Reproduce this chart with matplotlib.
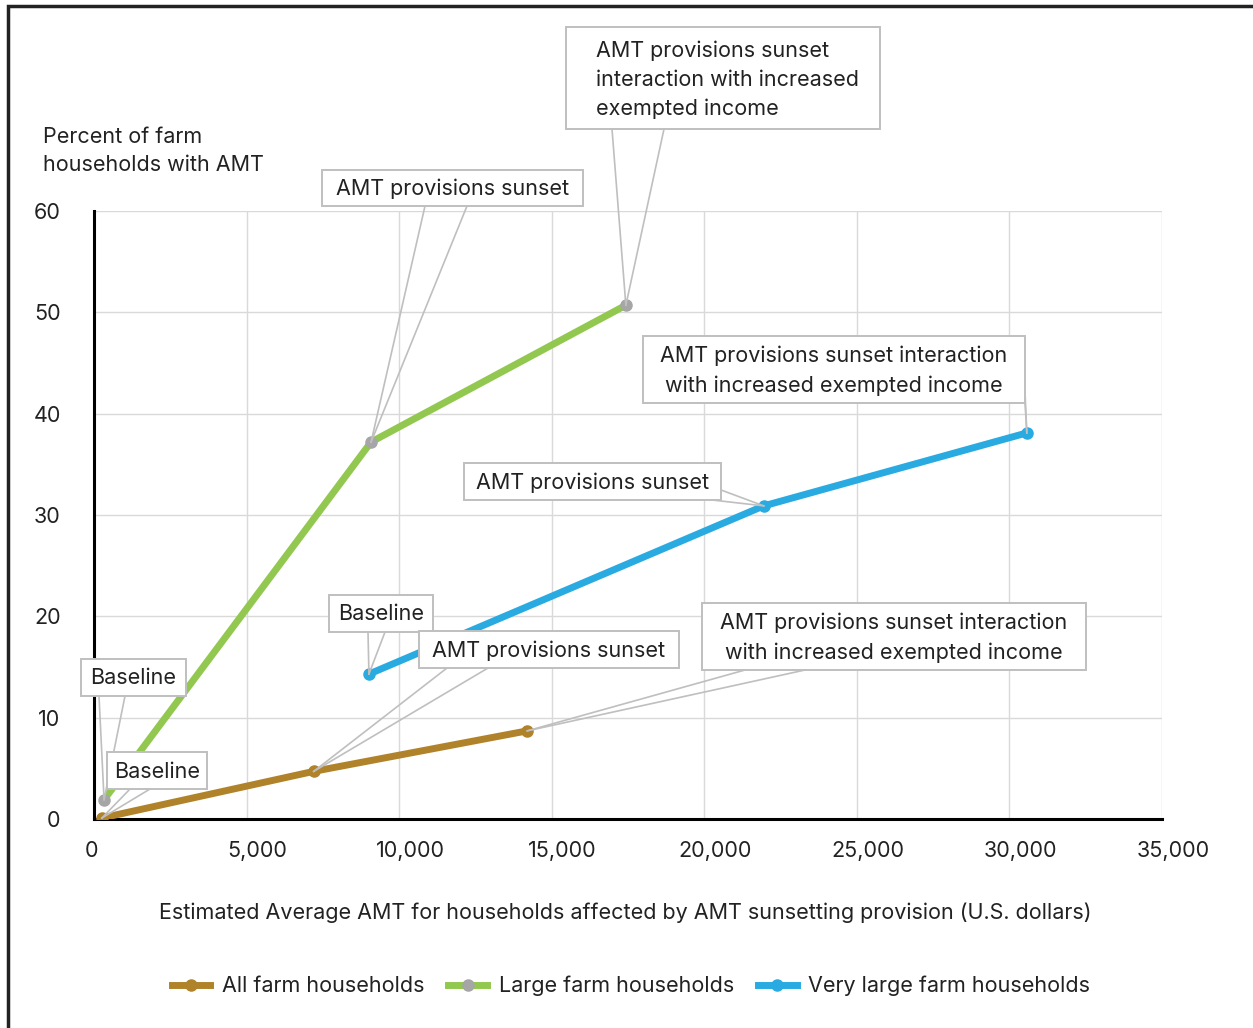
import matplotlib
matplotlib.use("Agg")
import matplotlib.pyplot as plt
from matplotlib.lines import Line2D
from matplotlib.patches import Rectangle
from matplotlib.transforms import ScaledTranslation

plt.rcParams['font.family'] = ['Inter', 'DejaVu Sans']

# ---- data ----
all_x = [260, 7200, 14200]
all_y = [0.1, 4.7, 8.7]
large_x = [330, 9080, 17430]
large_y = [1.9, 37.2, 50.7]
vlarge_x = [9010, 21950, 30570]
vlarge_y = [14.3, 30.9, 38.1]
series_names = ["All farm households", "Large farm households", "Very large farm households"]
x_ticks = [0, 5000, 10000, 15000, 20000, 25000, 30000, 35000]
y_ticks = [0, 10, 20, 30, 40, 50, 60]

C_ALL = "#B0832B"
C_LARGE = "#92C84F"
C_VL = "#29ABE2"
GRAY = "#A6A6A6"
FS = 15.5
TXT = '#222222'

W, H = 1253, 1028
fig = plt.figure(figsize=(W / 100, H / 100), dpi=100)
ax = fig.add_axes([94 / W, 1 - 819 / H, (1162 - 94) / W, (819 - 211) / H])

lw = 5.0
ms = 8
ax.plot(all_x, all_y, color=C_ALL, lw=lw, marker='o', ms=ms, mfc=C_ALL, mec=C_ALL, zorder=3,
        solid_capstyle='round')
ax.plot(large_x, large_y, color=C_LARGE, lw=lw, marker='o', ms=ms, mfc=GRAY, mec=GRAY, zorder=3,
        solid_capstyle='round')
ax.plot(vlarge_x, vlarge_y, color=C_VL, lw=lw, marker='o', ms=ms, mfc=C_VL, mec=C_VL, zorder=3,
        solid_capstyle='round')

ax.set_xlim(0, 35000)
ax.set_ylim(0, 60)
ax.set_xticks(x_ticks)
ax.set_xticklabels([f"{v:,}" for v in x_ticks])
ax.set_yticks(y_ticks)
ax.set_yticklabels([str(v) for v in y_ticks])
ax.grid(True, color="#D9D9D9", lw=1.0, zorder=0)
ax.set_axisbelow(True)
for s in ['top', 'right']:
    ax.spines[s].set_visible(False)
for s in ['left', 'bottom']:
    ax.spines[s].set_color('black')
    ax.spines[s].set_linewidth(2.2)
ax.tick_params(length=0, labelsize=FS, colors=TXT)
ax.tick_params(axis='x', pad=16)
ax.tick_params(axis='y', pad=24)
for tick in ax.xaxis.get_major_ticks()[1:]:
    lab = tick.label1
    lab.set_transform(lab.get_transform() + ScaledTranslation(11 / 100, 0, fig.dpi_scale_trans))
lab0 = ax.xaxis.get_major_ticks()[0].label1
lab0.set_transform(lab0.get_transform() + ScaledTranslation(-3 / 100, 0, fig.dpi_scale_trans))

fig.text(43 / W, 1 - 151 / H, "Percent of farm\nhouseholds with AMT", fontsize=FS,
         color=TXT, va='center', ha='left', linespacing=1.45)
fig.text(625 / W, 1 - 913 / H,
         "Estimated Average AMT for households affected by AMT sunsetting provision (U.S. dollars)",
         fontsize=FS, color=TXT, ha='center', va='center')

handles = [Line2D([], [], color=C_ALL, lw=lw, marker='o', ms=ms, mfc=C_ALL, mec=C_ALL),
           Line2D([], [], color=C_LARGE, lw=lw, marker='o', ms=ms, mfc=GRAY, mec=GRAY),
           Line2D([], [], color=C_VL, lw=lw, marker='o', ms=ms, mfc=C_VL, mec=C_VL)]
fig.legend(handles, series_names, loc='center', bbox_to_anchor=(631 / W, 1 - 986 / H), ncol=3,
           frameon=False, fontsize=FS, handlelength=1.8, columnspacing=1.1, handletextpad=0.55,
           labelcolor=TXT)

# overlay in pixel coordinates for callouts and frame
ov = fig.add_axes([0, 0, 1, 1], zorder=10)
ov.set_xlim(0, W)
ov.set_ylim(H, 0)
ov.axis('off')
ov.patch.set_alpha(0)

# figure frame (left and top)
ov.plot([8, 8, W], [H, 6, 6], color='#222222', lw=2.5, solid_joinstyle='miter')

def to_px(x, y):
    dx, dy = ax.transData.transform((x, y))
    return dx, H - dy

# callouts: (text, box x0, y0, x1, y1, ha, wedge base pts, target)
callouts = [
    ("AMT provisions sunset\ninteraction with increased\nexempted income", 566, 27, 880, 129, 'left',
     [(612, 129), (664, 129)], (large_x[2], large_y[2])),
    ("AMT provisions sunset", 322, 170, 583, 206, 'center',
     [(425, 206), (467, 206)], (large_x[1], large_y[1])),
    ("AMT provisions sunset interaction\nwith increased exempted income", 643, 336, 1025, 403, 'center',
     [(1025, 392), (1025, 403)], (vlarge_x[2], vlarge_y[2])),
    ("AMT provisions sunset", 464, 463, 721, 500, 'center',
     [(712, 500), (721, 490)], (vlarge_x[1], vlarge_y[1])),
    ("Baseline", 329, 595, 433, 632, 'center',
     [(368, 632), (385, 632)], (vlarge_x[0], vlarge_y[0])),
    ("AMT provisions sunset", 419, 631, 679, 668, 'center',
     [(447, 668), (488, 668)], (all_x[1], all_y[1])),
    ("AMT provisions sunset interaction\nwith increased exempted income", 702, 603, 1086, 670, 'center',
     [(745, 670), (805, 670)], (all_x[2], all_y[2])),
    ("Baseline", 81, 659, 186, 696, 'center',
     [(99, 696), (125, 696)], (large_x[0], large_y[0])),
    ("Baseline", 107, 752, 207, 789, 'center',
     [(130, 789), (150, 789)], (all_x[0], all_y[0])),
]

lc = '#BFBFBF'
for i, (txt, x0, y0, x1, y1, ha, base, tgt) in enumerate(callouts):
    z = 20 + i * 3
    tx, ty = to_px(*tgt)
    for bx, by in base:
        ov.plot([bx, tx], [by, ty], color=lc, lw=1.2, zorder=z)
    ov.add_patch(Rectangle((x0, y0), x1 - x0, y1 - y0, facecolor='white', edgecolor=lc,
                           lw=1.4, zorder=z + 1))
    if ha == 'left':
        ov.text(x0 + 30, (y0 + y1) / 2 + 2, txt, ha='left', va='center', fontsize=FS,
                color=TXT, linespacing=1.55, zorder=z + 2)
    else:
        ov.text((x0 + x1) / 2, (y0 + y1) / 2 + 1, txt, ha='center', va='center', fontsize=FS,
                color=TXT, linespacing=1.55, zorder=z + 2, multialignment='center')

fig.savefig("out.png", dpi=100)
